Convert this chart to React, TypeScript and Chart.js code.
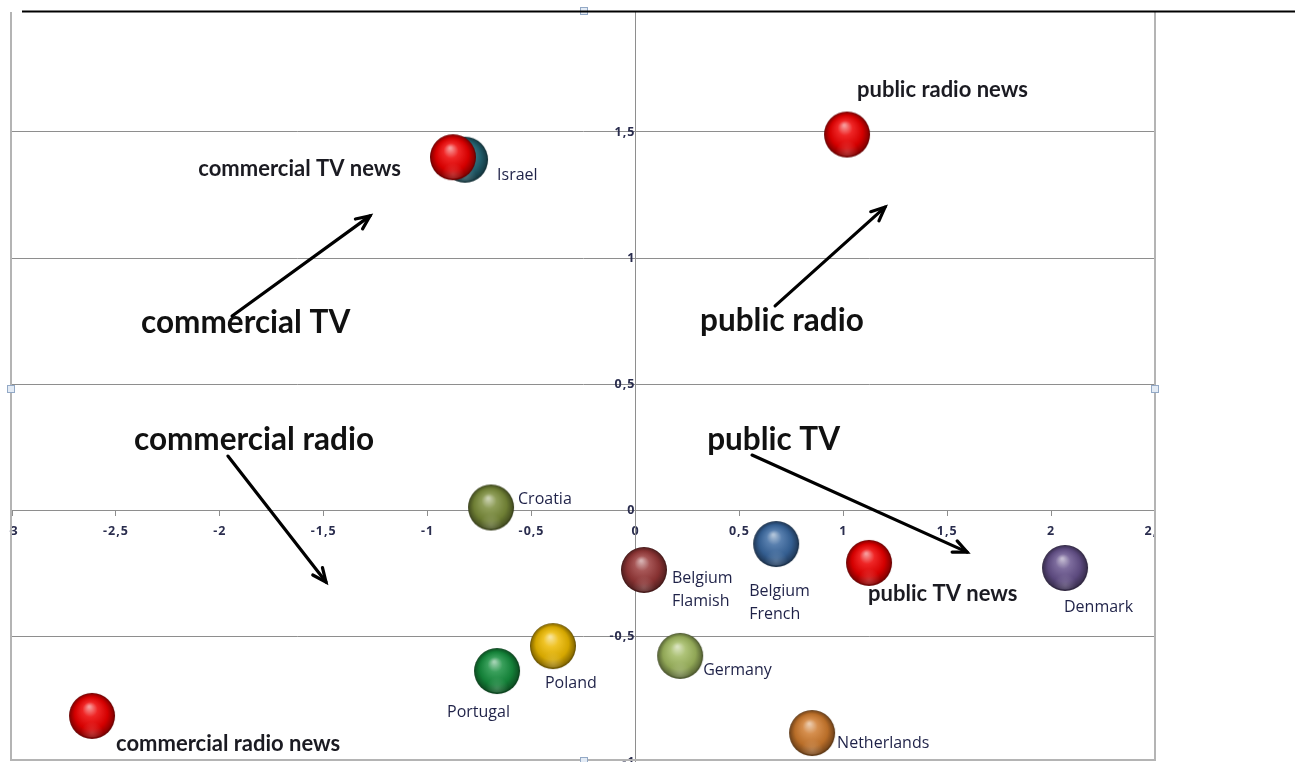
import React, { useEffect, useRef } from "react";
import { Chart, registerables } from "chart.js";

Chart.register(...registerables);

// Country scores on the two dimensions
const countryNames = [
  "Israel",
  "Croatia",
  "Belgium\nFlamish",
  "Belgium\nFrench",
  "Denmark",
  "Poland",
  "Portugal",
  "Germany",
  "Netherlands",
];
const countryX = [-0.82, -0.695, 0.041, 0.677, 2.067, -0.397, -0.666, 0.215, 0.85];
const countryY = [1.39, 0.01, -0.238, -0.135, -0.23, -0.54, -0.639, -0.579, -0.885];

// Media-type scores on the same dimensions
const mediaNames = ["commercial TV news", "public radio news", "public TV news", "commercial radio news"];
const mediaX = [-0.878, 1.018, 1.124, -2.615];
const mediaY = [1.4, 1.49, -0.21, -0.817];

// Axis ticks
const xTickValues = [-3, -2.5, -2, -1.5, -1, -0.5, 0, 0.5, 1, 1.5, 2, 2.5];
const yTickValues = [-1, -0.5, 0, 0.5, 1, 1.5];

// Group captions with their direction arrows (data units)
const groupNames = ["commercial TV", "public radio", "commercial radio", "public TV"];
const groupAt = [
  { x: -2.379, y: 0.742 },
  { x: 0.311, y: 0.75 },
  { x: -2.413, y: 0.278 },
  { x: 0.345, y: 0.278 },
];
const groupArrows = [
  { x1: -1.941, y1: 0.77, x2: -1.277, y2: 1.167 },
  { x1: 0.672, y1: 0.81, x2: 1.201, y2: 1.202 },
  { x1: -1.961, y1: 0.214, x2: -1.489, y2: -0.286 },
  { x1: 0.561, y1: 0.218, x2: 1.596, y2: -0.167 },
];

// Styling
type RGB = [number, number, number];
const RED: RGB = [236, 0, 0];
const countryColors: RGB[] = [
  [38, 104, 120],
  [122, 140, 58],
  [150, 56, 56],
  [58, 104, 160],
  [102, 82, 140],
  [236, 184, 0],
  [22, 142, 62],
  [160, 184, 96],
  [206, 122, 46],
];
// label offsets from the ball centre (px)
const countryLabelOffset = [
  { dx: 32, dy: 16 },
  { dx: 27, dy: -8 },
  { dx: 28, dy: 8 },
  { dx: -27, dy: 47 },
  { dx: -1, dy: 39 },
  { dx: -8, dy: 37 },
  { dx: -50, dy: 41 },
  { dx: 23, dy: 15 },
  { dx: 25, dy: 10 },
];
const mediaLabelOffset = [
  { dx: -52, dy: 12, align: "right" as CanvasTextAlign },
  { dx: 10, dy: -45, align: "left" as CanvasTextAlign },
  { dx: -1, dy: 31, align: "left" as CanvasTextAlign },
  { dx: 24, dy: 28, align: "left" as CanvasTextAlign },
];

const BALL_R = 23;
const GRID = "#8e8e8e";
const FRAME = { left: 11, right: 1155, top: 12, bottom: 760 };

function mix(c: RGB, t: RGB, k: number) {
  const v = c.map((ch, i) => Math.round(ch + (t[i] - ch) * k));
  return `rgb(${v[0]},${v[1]},${v[2]})`;
}

function makeBall(rgb: RGB, r: number) {
  const size = Math.ceil(r * 2) + 2;
  const c = document.createElement("canvas");
  c.width = size;
  c.height = size;
  const g = c.getContext("2d")!;
  const cx = size / 2;
  const cy = size / 2;
  const W: RGB = [255, 255, 255];
  const K: RGB = [0, 0, 0];
  const body = g.createRadialGradient(cx - r * 0.12, cy - r * 0.4, r * 0.04, cx, cy, r);
  body.addColorStop(0, mix(rgb, W, 0.6));
  body.addColorStop(0.3, mix(rgb, W, 0.15));
  body.addColorStop(0.7, mix(rgb, K, 0.1));
  body.addColorStop(0.92, mix(rgb, K, 0.38));
  body.addColorStop(1, mix(rgb, K, 0.6));
  g.fillStyle = body;
  g.beginPath();
  g.arc(cx, cy, r, 0, Math.PI * 2);
  g.fill();
  // soft reflected light at the bottom
  const glow = g.createRadialGradient(cx, cy + r * 0.75, 1, cx, cy + r * 0.75, r * 0.5);
  glow.addColorStop(0, "rgba(255,255,255,0.18)");
  glow.addColorStop(1, "rgba(255,255,255,0)");
  g.fillStyle = glow;
  g.beginPath();
  g.arc(cx, cy, r - 1.5, 0, Math.PI * 2);
  g.fill();
  return c;
}

const fmt = (v: number) => String(v).replace(".", ",");

function drawArrow(ctx: CanvasRenderingContext2D, x1: number, y1: number, x2: number, y2: number) {
  ctx.beginPath();
  ctx.moveTo(x1, y1);
  ctx.lineTo(x2, y2);
  ctx.stroke();
  const a = Math.atan2(y2 - y1, x2 - x1);
  const L = 15;
  const s = 0.42;
  ctx.beginPath();
  ctx.moveTo(x2 - L * Math.cos(a - s), y2 - L * Math.sin(a - s));
  ctx.lineTo(x2, y2);
  ctx.lineTo(x2 - L * Math.cos(a + s), y2 - L * Math.sin(a + s));
  ctx.stroke();
}

const overlay = {
  id: "overlay",
  beforeDraw(chart: any) {
    const ctx: CanvasRenderingContext2D = chart.ctx;
    ctx.save();
    ctx.fillStyle = "#fff";
    ctx.fillRect(0, 0, chart.width, chart.height);
    ctx.beginPath();
    ctx.rect(FRAME.left - 2, FRAME.top, FRAME.right - FRAME.left + 2, chart.height - FRAME.top);
    ctx.clip();
    (ctx as any).letterSpacing = "1px";
  },
  afterDatasetsDraw(chart: any) {
    const ctx: CanvasRenderingContext2D = chart.ctx;
    const xs = chart.scales.x;
    const ys = chart.scales.y;
    ctx.save();
    (ctx as any).letterSpacing = "0px";
    ctx.textBaseline = "middle";

    // country names
    ctx.font = "16px 'Open Sans', sans-serif";
    ctx.fillStyle = "#1f2248";
    ctx.textAlign = "left";
    countryNames.forEach((name, i) => {
      const px = xs.getPixelForValue(countryX[i]) + countryLabelOffset[i].dx;
      const py = ys.getPixelForValue(countryY[i]) + countryLabelOffset[i].dy;
      name.split("\n").forEach((line, j) => ctx.fillText(line, px, py + j * 23));
    });

    // media-type names next to the red balls
    ctx.font = "bold 22px Lato, sans-serif";
    ctx.fillStyle = "#1b1b22";
    mediaNames.forEach((name, i) => {
      const o = mediaLabelOffset[i];
      ctx.textAlign = o.align;
      ctx.fillText(name, xs.getPixelForValue(mediaX[i]) + o.dx, ys.getPixelForValue(mediaY[i]) + o.dy);
    });

    // group captions and arrows
    ctx.font = "bold 31.5px Lato, sans-serif";
    ctx.fillStyle = "#111";
    ctx.textAlign = "left";
    groupNames.forEach((name, i) => {
      ctx.fillText(name, xs.getPixelForValue(groupAt[i].x), ys.getPixelForValue(groupAt[i].y));
    });
    ctx.strokeStyle = "#000";
    ctx.lineWidth = 3.2;
    ctx.lineCap = "round";
    ctx.lineJoin = "miter";
    groupArrows.forEach((a) => {
      drawArrow(
        ctx,
        xs.getPixelForValue(a.x1),
        ys.getPixelForValue(a.y1),
        xs.getPixelForValue(a.x2),
        ys.getPixelForValue(a.y2)
      );
    });
    ctx.restore();
  },
  afterDraw(chart: any) {
    const ctx: CanvasRenderingContext2D = chart.ctx;
    ctx.restore();
    ctx.save();
    // chart frame
    ctx.strokeStyle = "#b4b4b4";
    ctx.lineWidth = 2;
    ctx.beginPath();
    ctx.moveTo(FRAME.left, FRAME.top);
    ctx.lineTo(FRAME.left, FRAME.bottom);
    ctx.lineTo(FRAME.right, FRAME.bottom);
    ctx.lineTo(FRAME.right, FRAME.top);
    ctx.stroke();
    // selection handles
    ctx.fillStyle = "#e3ebf5";
    ctx.strokeStyle = "#93a9c6";
    ctx.lineWidth = 1;
    const mid = (FRAME.top + FRAME.bottom) / 2 + 3;
    const cxm = 584;
    [
      [FRAME.left, mid],
      [FRAME.right, mid],
      [cxm, FRAME.top - 1],
      [cxm, FRAME.bottom + 1],
    ].forEach(([hx, hy]) => {
      ctx.fillRect(hx - 3.5, hy - 3.5, 7, 7);
      ctx.strokeRect(hx - 3.5, hy - 3.5, 7, 7);
    });
    // page rule above the chart
    ctx.strokeStyle = "#000";
    ctx.lineWidth = 2.2;
    ctx.beginPath();
    ctx.moveTo(22, 11.5);
    ctx.lineTo(chart.width, 11.5);
    ctx.stroke();
    ctx.restore();
  },
};

export default function App() {
  const ref = useRef<HTMLCanvasElement>(null);

  useEffect(() => {
    const canvas = ref.current;
    if (!canvas) return;
    const mediaBalls = mediaX.map(() => makeBall(RED, BALL_R));
    const countryBalls = countryColors.map((c) => makeBall(c, BALL_R));

    const tickFont = { family: "'Open Sans', sans-serif", size: 12.5, weight: "bold" as const };
    const chart = new Chart(canvas, {
      type: "scatter",
      data: {
        datasets: [
          {
            label: "media",
            data: mediaX.map((x, i) => ({ x, y: mediaY[i] })),
            pointStyle: mediaBalls as any,
            pointRadius: BALL_R,
          },
          {
            label: "countries",
            data: countryX.map((x, i) => ({ x, y: countryY[i] })),
            pointStyle: countryBalls as any,
            pointRadius: BALL_R,
          },
        ],
      },
      options: {
        animation: false,
        responsive: false,
        devicePixelRatio: 1,
        events: [],
        layout: { autoPadding: false, padding: { left: 12, right: 140, top: 6, bottom: 0 } },
        plugins: { legend: { display: false }, tooltip: { enabled: false } },
        scales: {
          x: {
            type: "linear",
            min: -3,
            max: 2.5,
            position: { y: 0 } as any,
            afterBuildTicks: (s: any) => {
              s.ticks = xTickValues.map((v) => ({ value: v }));
            },
            afterFit: (s: any) => {
              s.paddingLeft = 0;
              s.paddingRight = 0;
            },
            grid: { drawOnChartArea: false, drawTicks: true, tickLength: 5, color: GRID },
            border: { color: GRID, width: 1 },
            ticks: {
              autoSkip: false,
              maxRotation: 0,
              padding: 9,
              color: "#2a2d4e",
              font: tickFont,
              callback: (v: any) => fmt(Number(v)),
            },
          },
          y: {
            type: "linear",
            min: -1,
            max: 2,
            position: { x: 0 } as any,
            afterBuildTicks: (s: any) => {
              s.ticks = yTickValues.map((v) => ({ value: v }));
            },
            afterFit: (s: any) => {
              s.paddingTop = 0;
              s.paddingBottom = 0;
            },
            grid: {
              drawOnChartArea: true,
              drawTicks: true,
              tickLength: 5,
              color: (c: any) => (c.tick && c.tick.value === -1 ? "rgba(0,0,0,0)" : GRID),
            },
            border: { color: GRID, width: 1 },
            ticks: {
              autoSkip: false,
              padding: 8,
              color: "#2a2d4e",
              font: tickFont,
              callback: (v: any) => fmt(Number(v)),
            },
          },
        },
      },
      plugins: [overlay],
    });
    return () => chart.destroy();
  }, []);

  return (
    <div style={{ position: "fixed", left: 0, top: 0, width: 1295, height: 762, background: "#fff" }}>
      <canvas ref={ref} width={1295} height={762} style={{ display: "block" }} />
    </div>
  );
}
